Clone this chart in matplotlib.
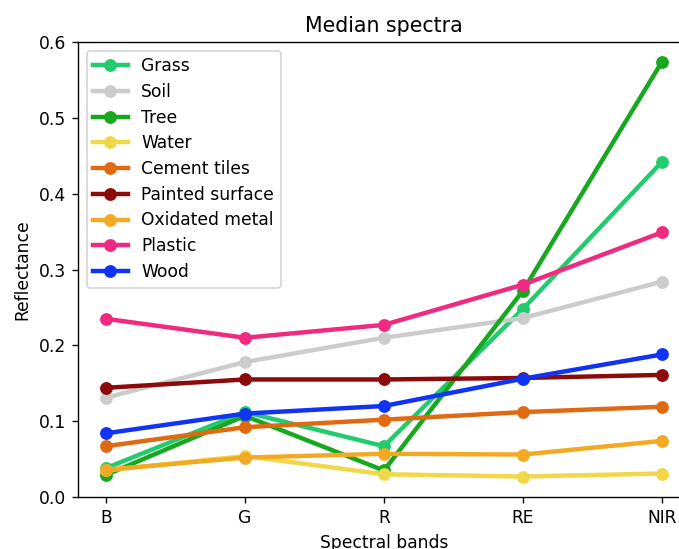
import matplotlib
matplotlib.use('Agg')
import matplotlib.pyplot as plt

# spectral bands and median reflectance per material
bands = ['B', 'G', 'R', 'RE', 'NIR']
materials = ['Grass', 'Soil', 'Tree', 'Water', 'Cement tiles', 'Painted surface',
             'Oxidated metal', 'Plastic', 'Wood']

grass = [0.038, 0.112, 0.067, 0.248, 0.442]
soil = [0.131, 0.178, 0.210, 0.236, 0.284]
tree = [0.029, 0.107, 0.035, 0.272, 0.574]
water = [0.035, 0.054, 0.030, 0.027, 0.031]
cement = [0.067, 0.092, 0.102, 0.112, 0.119]
painted = [0.144, 0.155, 0.155, 0.157, 0.161]
oxidated = [0.036, 0.052, 0.057, 0.056, 0.074]
plastic = [0.235, 0.210, 0.227, 0.280, 0.349]
wood = [0.084, 0.110, 0.120, 0.156, 0.188]

colors = ['#22cc6e', '#cccccc', '#17a81f', '#f0d84a', '#e06a12', '#8b0a0a',
          '#f2aa24', '#ef2a80', '#0f34f5']

series = [grass, soil, tree, water, cement, painted, oxidated, plastic, wood]

fig = plt.figure(figsize=(679 / 123, 549 / 123), dpi=123)
# axes run a little past the right edge of the canvas
ax = fig.add_axes([0.1149, 0.0947, 0.901, 0.8288])

for name, vals, c in zip(materials, series, colors):
    ax.plot(bands, vals, marker='o', color=c, linewidth=2.6, markersize=6.5, label=name)

ax.set_ylim(0, 0.6)
ax.spines['right'].set_visible(False)
ax.set_title('Median spectra')
ax.set_xlabel('Spectral bands')
ax.set_ylabel('Reflectance')
ax.legend(loc='upper left', labelspacing=0.45)

fig.savefig('out.png', dpi=123)
